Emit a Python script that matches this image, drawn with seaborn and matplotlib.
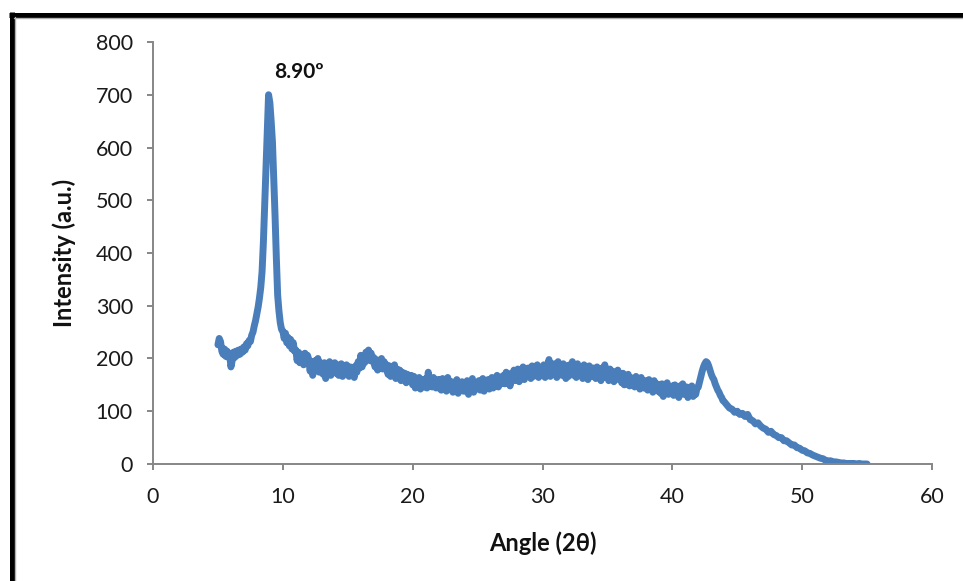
import numpy as np
import pandas as pd
import seaborn as sns
import matplotlib.pyplot as plt
from matplotlib.lines import Line2D

# Diffraction scan: 0.1 degree steps up to 43.9, 0.2 degree steps on the falling tail
angle_fine = np.round(np.arange(50, 440) / 10, 1)       # 5.0 .. 43.9
angle_coarse = np.round(np.arange(220, 276) / 5, 1)     # 44.0 .. 55.0

intensity_low = [
    226, 238, 232, 214, 208, 218, 204, 214, 202, 210,   # 5
    184, 196, 212, 202, 214, 206, 216, 208, 218, 212,   # 6
    222, 216, 228, 224, 234, 232, 244, 250, 262, 272,   # 7
]

intensity_peak = [
    285, 298, 315, 335, 365, 420, 490, 560, 630, 700,   # 8
    685, 650, 610, 540, 470, 390, 320, 290, 268, 255,   # 9
]

intensity_mid = [
    252, 238, 248, 230, 240, 224, 236, 218, 230, 214,   # 10
    216, 196, 212, 192, 208, 200, 188, 210, 194, 206,   # 11
    198, 176, 194, 168, 188, 196, 178, 200, 174, 192,   # 12
    188, 170, 192, 162, 184, 174, 194, 168, 188, 176,   # 13
    192, 172, 188, 168, 184, 190, 166, 186, 174, 188,   # 14
    178, 166, 184, 170, 180, 164, 186, 174, 194, 182,   # 15
    206, 184, 202, 192, 212, 198, 216, 196, 210, 194,   # 16
    202, 184, 198, 178, 196, 186, 200, 180, 194, 182,   # 17
    188, 170, 186, 166, 182, 172, 188, 162, 180, 168,   # 18
    178, 158, 174, 162, 172, 154, 170, 160, 156, 168,   # 19
    150, 166, 144, 162, 148, 164, 142, 160, 152, 146,   # 20
    162, 144, 174, 148, 160, 146, 164, 150, 144, 160,   # 21
    144, 160, 140, 162, 148, 158, 138, 164, 146, 156,   # 22
    156, 136, 154, 144, 160, 134, 152, 142, 156, 138,   # 23
    154, 138, 158, 132, 152, 144, 162, 136, 154, 142,   # 24
    144, 158, 140, 154, 162, 138, 156, 146, 160, 142,   # 25
    150, 164, 144, 160, 148, 168, 146, 162, 152, 166,   # 26
    168, 152, 174, 156, 170, 148, 172, 160, 178, 158,   # 27
    162, 180, 156, 176, 164, 184, 160, 178, 166, 182,   # 28
    178, 162, 186, 166, 180, 168, 188, 164, 182, 170,   # 29
    168, 188, 164, 182, 172, 198, 166, 184, 170, 190,   # 30
    184, 164, 194, 172, 186, 168, 190, 174, 162, 186,   # 31
    166, 188, 172, 194, 168, 182, 164, 190, 172, 184,   # 32
    182, 162, 188, 168, 180, 160, 186, 172, 166, 182,   # 33
    180, 162, 184, 166, 176, 158, 182, 168, 188, 164,   # 34
    174, 158, 180, 162, 176, 156, 172, 164, 178, 160,   # 35
    168, 154, 172, 150, 166, 156, 170, 148, 164, 154,   # 36
    162, 146, 166, 148, 160, 142, 164, 150, 144, 158,   # 37
    156, 140, 160, 144, 154, 136, 158, 142, 152, 138,   # 38
    150, 134, 152, 128, 148, 138, 154, 132, 146, 136,   # 39
    148, 130, 150, 134, 144, 126, 148, 136, 152, 132,   # 40
    134, 146, 126, 144, 132, 148, 128, 142, 132, 144,   # 41
    146, 156, 166, 176, 184, 190, 194, 192, 186, 178,   # 42
    170, 164, 160, 152, 146, 140, 136, 130, 126, 120,   # 43
]

intensity_tail = [
    118, 112, 106, 104, 98,    # 44
    100, 94, 96, 90, 94,       # 45
    84, 82, 76, 78, 72,        # 46
    68, 66, 60, 62, 56,        # 47
    54, 50, 50, 44, 44,        # 48
    40, 36, 36, 31, 30,        # 49
    26, 25, 21, 20, 17,        # 50
    15, 13, 11, 10, 7,         # 51
    6, 6, 4, 4, 3,             # 52
    2, 2, 1, 1, 1,             # 53
    1, 0, 1, 0, 0,             # 54
    0,                         # 55
]

peak_angle = 8.9
peak_label = "8.90º"

x_ticks = [0, 10, 20, 30, 40, 50, 60]
y_ticks = [0, 100, 200, 300, 400, 500, 600, 700, 800]

df = pd.DataFrame({
    "angle": np.concatenate([angle_fine, angle_coarse]),
    "intensity": intensity_low + intensity_peak + intensity_mid + intensity_tail,
})
peak_value = df.loc[np.isclose(df["angle"], peak_angle), "intensity"].iloc[0]

sns.set_theme(style="white")
plt.rcParams["font.family"] = ["Lato", "DejaVu Sans"]

fig = plt.figure(figsize=(9.63, 5.81), dpi=100)
ax = fig.add_axes([0.1589, 0.2014, 0.8089, 0.7263])

sns.lineplot(data=df, x="angle", y="intensity", color="#4A7EBB",
             linewidth=5.0, ax=ax, estimator=None)

ax.set_xlim(0, 60)
ax.set_ylim(0, 800)
ax.set_xticks(x_ticks)
ax.set_yticks(y_ticks)

grey = "#868686"
for side in ("top", "right"):
    ax.spines[side].set_visible(False)
for side in ("left", "bottom"):
    ax.spines[side].set_color(grey)
    ax.spines[side].set_linewidth(1.4)

ax.tick_params(axis="both", direction="out", length=4.5, width=1.4,
               color=grey, labelsize=15.5, labelcolor="#1a1a1a",
               left=True, bottom=True)
ax.tick_params(axis="y", pad=10)
ax.tick_params(axis="x", pad=12)

ax.set_xlabel("Angle (2θ)", fontsize=17, fontweight="bold", color="#111111")
ax.set_ylabel("Intensity (a.u.)", fontsize=17, fontweight="bold", color="#111111")
ax.xaxis.set_label_coords(0.5, -0.16)
ax.yaxis.set_label_coords(-0.099, 0.5)

ax.text(peak_angle + 0.45, peak_value + 43, peak_label, fontsize=15,
        fontweight="bold", ha="left", va="center", color="#111111")

# Heavy black frame running off the lower and right edges
W, H = 963, 581
fig.add_artist(Line2D([11.5 / W, 11.5 / W], [0, 1 - 12 / H], transform=fig.transFigure,
                      color="black", lw=3.6, solid_capstyle="butt"))
fig.add_artist(Line2D([9 / W, 1], [1 - 14.5 / H, 1 - 14.5 / H], transform=fig.transFigure,
                      color="black", lw=3.6, solid_capstyle="butt"))
fig.add_artist(Line2D([15 / W, 15 / W], [0, 1 - 17 / H], transform=fig.transFigure,
                      color="#b0b0b0", lw=1.0))
fig.add_artist(Line2D([14 / W, 1], [1 - 18 / H, 1 - 18 / H], transform=fig.transFigure,
                      color="#b0b0b0", lw=1.0))

fig.savefig("out.png", dpi=100)
